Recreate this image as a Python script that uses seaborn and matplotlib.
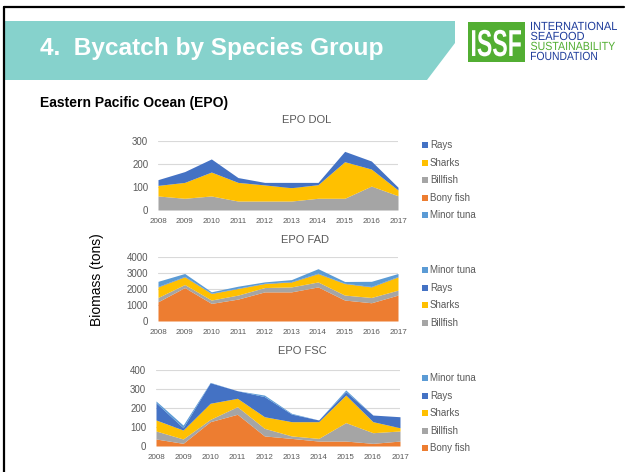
import matplotlib
matplotlib.use('Agg')
import matplotlib.pyplot as plt
import seaborn as sns
from matplotlib.patches import Polygon, Rectangle, PathPatch
from matplotlib.lines import Line2D
from matplotlib.textpath import TextPath
from matplotlib.font_manager import FontProperties
from matplotlib.transforms import Affine2D, IdentityTransform

# data (tons)
years = [2008, 2009, 2010, 2011, 2012, 2013, 2014, 2015, 2016, 2017]

dol_minor = [0, 0, 0, 0, 0, 0, 0, 0, 0, 0]
dol_bony = [0, 0, 0, 0, 0, 0, 0, 0, 0, 0]
dol_billfish = [61, 51, 61, 39, 39, 39, 51, 51, 104, 62]
dol_sharks = [46, 69, 104, 81, 70, 58, 59, 159, 74, 25]
dol_rays = [25, 47, 57, 21, 11, 23, 10, 45, 35, 12]

fad_bony = [1200, 2090, 1100, 1370, 1820, 1820, 2130, 1310, 1140, 1620]
fad_billfish = [270, 190, 210, 250, 270, 310, 310, 310, 330, 310]
fad_sharks = [660, 480, 410, 410, 250, 310, 520, 720, 660, 830]
fad_rays = [30, 30, 20, 20, 20, 30, 30, 20, 30, 30]
fad_minor = [320, 180, 85, 125, 85, 115, 280, 110, 320, 180]

fsc_bony = [37, 14, 128, 167, 53, 40, 26, 26, 14, 26]
fsc_billfish = [42, 23, 12, 40, 40, 13, 14, 97, 56, 53]
fsc_sharks = [58, 47, 85, 44, 61, 75, 88, 145, 58, 17]
fsc_rays = [91, 12, 108, 40, 106, 40, 9, 18, 35, 58]
fsc_minor = [9, 14, 2, 0, 8, 4, 0, 9, 0, 0]

colors = {'Rays': '#4472C4', 'Sharks': '#FFC000', 'Billfish': '#A5A5A5',
          'Bony fish': '#ED7D31', 'Minor tuna': '#5B9BD5'}

sns.set_theme(style='white')
plt.rcParams['font.family'] = ['Liberation Sans', 'DejaVu Sans']

W, H = 631, 472
fig = plt.figure(figsize=(W / 100, H / 100), dpi=100)
fig.patch.set_facecolor('white')


def fx(x):
    return x / W


def fy(y):
    return 1 - y / H


def px_axes(x0, y_top, x1, y_bot):
    return fig.add_axes([fx(x0), fy(y_bot), (x1 - x0) / W, (y_bot - y_top) / H])


def squeezed_text(txt, x_left, y_base, width, height, color, weight='normal'):
    # text drawn as a path so it can be condensed like the logo lettering
    tp = TextPath((0, 0), txt, size=10, prop=FontProperties(family='Liberation Sans', weight=weight))
    ext = tp.get_extents()
    sx = width / ext.width
    sy = height / 7.2  # cap height of Liberation Sans at size 10 is ~7.2
    tr = Affine2D().translate(-ext.x0, 0).scale(sx, sy).translate(x_left, H - y_base)
    fig.add_artist(PathPatch(tr.transform_path(tp), facecolor=color, edgecolor='none',
                             transform=IdentityTransform()))


# slide frame
fig.add_artist(Line2D([fx(4), fx(4)], [fy(7), 0], color='black', lw=1.6))
fig.add_artist(Line2D([fx(4), fx(624)], [fy(7), fy(7)], color='black', lw=1.6))

# teal banner with slanted end
banner = Polygon([(fx(5), fy(21)), (fx(455), fy(21)), (fx(455), fy(43)),
                  (fx(427), fy(80)), (fx(5), fy(80))], closed=True,
                 facecolor='#86D2CC', edgecolor='none', transform=fig.transFigure)
fig.add_artist(banner)
fig.text(fx(40), fy(49), '4.  Bycatch by Species Group', color='white',
         fontsize=17.6, fontweight='bold', va='center', ha='left')

# ISSF logo
fig.add_artist(Rectangle((fx(468), fy(62)), 57 / W, 40 / H, facecolor='#52AE32',
                         edgecolor='none', transform=fig.transFigure))
squeezed_text('ISSF', 472, 56, 49, 27, 'white', weight='bold')
logo_lines = [('INTERNATIONAL', '#1E3C9B', 86), ('SEAFOOD', '#1E3C9B', 53),
              ('SUSTAINABILITY', '#52AE32', 84), ('FOUNDATION', '#1E3C9B', 66)]
for i, (txt, c, w) in enumerate(logo_lines):
    squeezed_text(txt, 531, 30 + i * 10, w, 8.5, c)

fig.text(fx(40), fy(103), 'Eastern Pacific Ocean (EPO)', fontsize=10,
         fontweight='bold', color='black', ha='left', va='center')
fig.text(fx(97), fy(280), 'Biomass (tons)', fontsize=10, rotation=90,
         ha='center', va='center', color='black')


def area_panel(box, stack, ymax, ystep, title, title_xy, legend_names, legend_y):
    ax = px_axes(*box)
    names = [s[0] for s in stack]
    ax.stackplot(years, [s[1] for s in stack], colors=[colors[n] for n in names],
                 linewidth=0)
    ax.set_xlim(2008, 2017)
    ax.set_ylim(0, ymax)
    ax.set_yticks(range(0, ymax + 1, ystep))
    ax.set_xticks(years)
    ax.set_xticklabels([str(y) for y in years])
    ax.grid(axis='y', color='#D9D9D9', lw=0.8)
    ax.set_axisbelow(True)
    ax.set_facecolor('none')
    sns.despine(ax=ax, left=True, bottom=True)
    ax.tick_params(axis='y', labelsize=7, colors='#595959', length=0, pad=7)
    ax.tick_params(axis='x', labelsize=5.8, colors='#595959', length=0, pad=6)
    fig.text(fx(title_xy[0]), fy(title_xy[1]), title, fontsize=8, color='#595959',
             ha='center', va='center')
    for i, n in enumerate(legend_names):
        y = legend_y + i * 17.6
        fig.add_artist(Rectangle((fx(422), fy(y + 3)), 6 / W, 6 / H,
                                 facecolor=colors[n], edgecolor='none',
                                 transform=fig.transFigure))
        fig.text(fx(430), fy(y), n, fontsize=7, color='#595959', ha='left',
                 va='center')
    return ax


area_panel((158, 141, 398, 210),
           [('Minor tuna', dol_minor), ('Bony fish', dol_bony),
            ('Billfish', dol_billfish), ('Sharks', dol_sharks), ('Rays', dol_rays)],
           300, 100, 'EPO DOL', (307, 120),
           ['Rays', 'Sharks', 'Billfish', 'Bony fish', 'Minor tuna'], 145)

area_panel((158, 257, 398, 321),
           [('Bony fish', fad_bony), ('Billfish', fad_billfish),
            ('Sharks', fad_sharks), ('Rays', fad_rays), ('Minor tuna', fad_minor)],
           4000, 1000, 'EPO FAD', (305, 240),
           ['Minor tuna', 'Rays', 'Sharks', 'Billfish'], 270)

area_panel((156, 370, 400, 446),
           [('Bony fish', fsc_bony), ('Billfish', fsc_billfish),
            ('Sharks', fsc_sharks), ('Rays', fsc_rays), ('Minor tuna', fsc_minor)],
           400, 100, 'EPO FSC', (302, 351),
           ['Minor tuna', 'Rays', 'Sharks', 'Billfish', 'Bony fish'], 378)

fig.savefig('out.png', dpi=100)
